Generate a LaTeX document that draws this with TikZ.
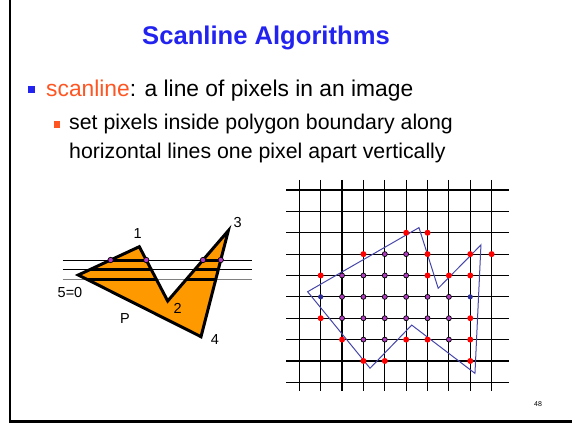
\documentclass[tikz,border=0pt]{standalone}
\usepackage{fontspec}
\setmainfont{Liberation Sans}
\usetikzlibrary{calc}
\definecolor{titleblue}{RGB}{35,35,240}
\definecolor{scanorange}{RGB}{255,85,34}
\definecolor{polyfill}{RGB}{255,153,0}
\definecolor{dotpurple}{RGB}{175,60,190}
\definecolor{dotred}{RGB}{255,0,0}
\definecolor{dotblue}{RGB}{45,45,150}
\definecolor{polyblue}{RGB}{70,70,170}
\begin{document}
\begin{tikzpicture}[x=1pt,y=-1pt,
  lbl/.style={inner sep=0pt,font=\fontsize{14.5}{16}\selectfont},
  pdot/.style={fill=dotpurple,draw=black,line width=0.7pt},
  rdot/.style={fill=dotred},
  bdot/.style={fill=dotblue},
  gridline/.style={line width=1.2pt,black}]
\useasboundingbox (0,0) rectangle (572,428);
% frame
\draw[line width=2.5pt] (10,0) -- (10,421.7) -- (572,421.7);
% title
\node[anchor=base,inner sep=0pt,text=titleblue,font=\fontsize{25.6}{30}\selectfont\bfseries] (title) at (266,45) {Scanline Algorithms};
% bullets
\fill[titleblue] (28.3,86) rectangle (35,92.7);
\node[anchor=base west,inner sep=0pt,font=\fontsize{22.8}{26}\selectfont] (b1) at (46,96) {\textcolor{scanorange}{scanline}: a line of pixels in an image};
\fill[scanorange] (53.5,121) rectangle (60,127.5);
\node[anchor=base west,inner sep=0pt,font=\fontsize{21.3}{25}\selectfont] (b2) at (69,129.3) {set pixels inside polygon boundary along};
\node[anchor=base west,inner sep=0pt,font=\fontsize{21.3}{25}\selectfont] (b3) at (69,158.3) {horizontal lines one pixel apart vertically};
% page number
\node[inner sep=0pt,font=\fontsize{7}{8}\selectfont] (pg) at (538,404) {48};
% ---------- left figure ----------
\coordinate (v0) at (78.3,275);
\coordinate (v1) at (139.3,246.7);
\coordinate (v2) at (167.7,301);
\coordinate (v3) at (228.3,230.7);
\coordinate (v4) at (201,336.7);
\fill[polyfill] (v0) -- (v1) -- (v2) -- (v3) -- (v4) -- cycle;
\draw[line width=1pt] (62.7,260) -- (252.3,260);
\draw[line width=1pt] (62.7,269.3) -- (252.3,269.3);
\draw[line width=1pt,gray] (62.7,279) -- (252.3,279);
\begin{scope}
\clip (v0) -- (v1) -- (v2) -- (v3) -- (v4) -- cycle;
\draw[line width=3pt] (60,260) -- (255,260);
\draw[line width=3pt] (60,269.3) -- (255,269.3);
\draw[line width=3pt] (60,279) -- (255,279);
\end{scope}
\draw[line width=3pt] (v0) -- (v1) -- (v2) -- (v3) -- (v4) -- cycle;
\filldraw[pdot] ($(v0)!0.53!(v1)$) circle (2.7pt);
\filldraw[pdot] ($(v1)!0.245!(v2)$) circle (2.7pt);
\filldraw[pdot] ($(v2)!0.583!(v3)$) circle (2.7pt);
\filldraw[pdot] ($(v3)!0.276!(v4)$) circle (2.7pt);
\node[lbl] (l1) at (137.7,233.3) {1};
\node[lbl] (l3) at (237.7,222.7) {3};
\node[lbl] (l2) at (177.7,308.3) {2};
\node[lbl] (l4) at (215,340) {4};
\node[lbl] (l5) at (70,292.7) {5=0};
\node[lbl] (lP) at (125,318.3) {P};
% ---------- right grid ----------
\begin{scope}[shift={(299.3pt,-190pt)},x=21.37pt,y=-21.37pt]
\foreach \i in {0,...,9} {
  \draw[gridline] (\i,-0.47) -- (\i,9.4);
  \draw[gridline] (-0.6,\i) -- (9.82,\i);
}
\draw[polyblue,line width=1pt] (5.60,1.76) -- (6.50,4.60) -- (8.50,2.57) -- (8.22,8.58) -- (5.26,6.32) -- (3.31,8.34) -- (0.39,4.76) -- cycle;
\foreach \c/\r in {5/2,6/2,3/3,6/3,8/3,9/3,1/4,6/4,7/4,8/4,1/6,8/6,2/7,5/7,6/7,8/7,3/8,4/8,8/8}
  \fill[rdot] (\c,\r) circle (3pt);
\foreach \c/\r in {4/3,5/3,2/4,3/4,4/4,5/4,2/5,3/5,4/5,5/5,6/5,7/5,2/6,3/6,4/6,5/6,6/6,7/6,3/7,4/7,7/7}
  \filldraw[pdot] (\c,\r) circle (2.5pt);
\foreach \c/\r in {1/5,8/5}
  \fill[bdot] (\c,\r) circle (2.6pt);
\end{scope}
\end{tikzpicture}
\end{document}
